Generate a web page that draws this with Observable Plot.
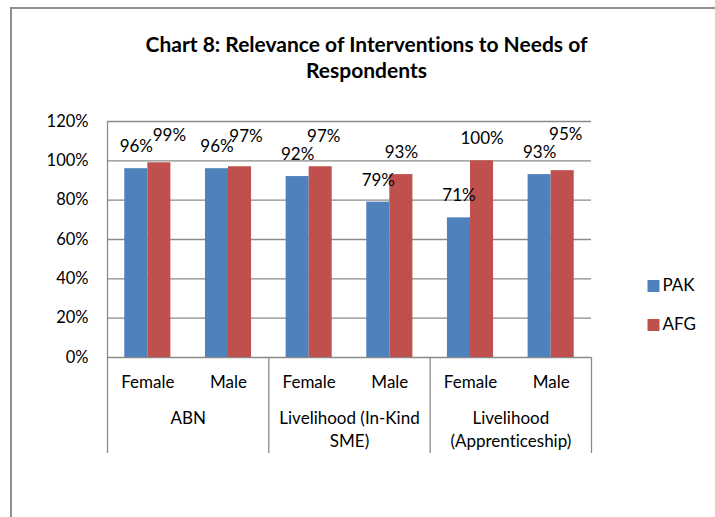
<!DOCTYPE html>
<html><head><meta charset="utf-8">
<script src="https://cdn.jsdelivr.net/npm/d3@7"></script>
<script src="https://cdn.jsdelivr.net/npm/@observablehq/plot@0.6"></script>
<style>
body{margin:0;background:#fff;}
#wrap{position:relative;width:715px;height:517px;overflow:hidden;background:#fff;}
#border{position:absolute;left:10px;top:7px;width:760px;height:560px;border:2px solid #909090;box-sizing:border-box;}
#chart{position:absolute;left:0;top:0;}
#chart svg text{font-variant-ligatures:none;font-feature-settings:"liga" 0;}
</style></head><body>
<div id="wrap"><div id="border"></div><div id="chart"></div></div>
<script>
// ---- data ----
const groups = ["ABN", "Livelihood (In-Kind SME)", "Livelihood (Apprenticeship)"];
const groupLabels = ["ABN", "Livelihood (In-Kind\nSME)", "Livelihood\n(Apprenticeship)"];
const subgroups = ["Female", "Male"];
const seriesNames = ["PAK", "AFG"];
const pakValues = [96, 96, 92, 79, 71, 93];
const afgValues = [99, 97, 97, 93, 100, 95];
const yTicks = [0, 20, 40, 60, 80, 100, 120];
const title = "Chart 8: Relevance of Interventions to Needs of\nRespondents";
const colors = ["#4F81BD", "#C0504D"];

// ---- layout (not data) ----
const gapWidth = 1.5; // Excel gap width 150%
const barW = 1 / (seriesNames.length + gapWidth);
const labelNudge = {"0-AFG": [10, -5], "1-AFG": [6, -8], "2-AFG": [3, -8], "5-AFG": [3, -14]};
const gridColor = "#8a8a8a";
const font = "Lato";
const fs = 17;

const categories = pakValues.map((_, i) => ({
  i, group: groups[Math.floor(i / subgroups.length)], sub: subgroups[i % subgroups.length]
}));
const seriesValues = [pakValues, afgValues];
const bars = [];
seriesValues.forEach((vals, s) => vals.forEach((v, i) => {
  const c = i + 0.5;
  bars.push({i, series: seriesNames[s], value: v,
    x1: c - barW * (seriesNames.length / 2 - s), x2: c - barW * (seriesNames.length / 2 - s - 1)});
}));
const boundaries = groups.map((g, k) => k * subgroups.length).concat([categories.length]);

const labelMarks = bars.map(b => {
  const n = labelNudge[b.i + "-" + b.series] || [0, 0];
  return Plot.text([b], {x: d => (d.x1 + d.x2) / 2, y: "value", text: d => d.value + "%",
    dx: n[0], dy: -22 + n[1], fontSize: fs, fill: "#000"});
});

const chart = Plot.plot({
  width: 715, height: 517,
  marginLeft: 107, marginRight: 124, marginTop: 121, marginBottom: 160,
  style: {fontFamily: font, fontSize: fs + "px", color: "#000", background: "transparent", overflow: "visible"},
  x: {domain: [0, categories.length], label: null},
  y: {domain: [0, 120], label: null},
  color: {domain: seriesNames, range: colors},
  marks: [
    Plot.ruleY(yTicks, {stroke: gridColor, strokeWidth: 1.3}),
    Plot.rectY(bars, {x1: "x1", x2: "x2", y: "value", fill: "series"}),
    Plot.ruleX([0], {stroke: gridColor, strokeWidth: 1.3}),
    Plot.axisX(boundaries, {tickSize: 96, tickFormat: () => "", stroke: gridColor, strokeWidth: 1.3}),
    Plot.axisY(yTicks, {tickSize: 0, tickPadding: 19, tickFormat: d => d + "%", fontSize: 16.5, fill: "#000"}),
    ...labelMarks,
    Plot.text(categories, {x: d => d.i + 0.5, frameAnchor: "bottom", dy: 30, text: "sub", fontSize: fs, fill: "#000"}),
    Plot.text(groupLabels, {x: (d, k) => k * subgroups.length + subgroups.length / 2, frameAnchor: "bottom",
      dy: 50.5, lineAnchor: "top", lineHeight: 1.34, text: d => d, fontSize: fs, fill: "#000"}),
    Plot.text([title], {frameAnchor: "top", dx: 17, dy: -88, lineAnchor: "top", lineHeight: 1.24,
      text: d => d, fontSize: 21, fontWeight: "bold", fill: "#000"}),
    ...seriesNames.map((s, k) => Plot.dot([s], {frameAnchor: "right", dx: 62, dy: 46.5 + k * 39,
      symbol: "square", r: 6.77, fill: d => d, stroke: null})),
    ...seriesNames.map((s, k) => Plot.text([s], {frameAnchor: "right", dx: 71, dy: 46.5 + k * 39,
      textAnchor: "start", text: d => d, fontSize: fs, fill: "#000"}))
  ]
});
document.getElementById("chart").appendChild(chart);
</script>
</body></html>
